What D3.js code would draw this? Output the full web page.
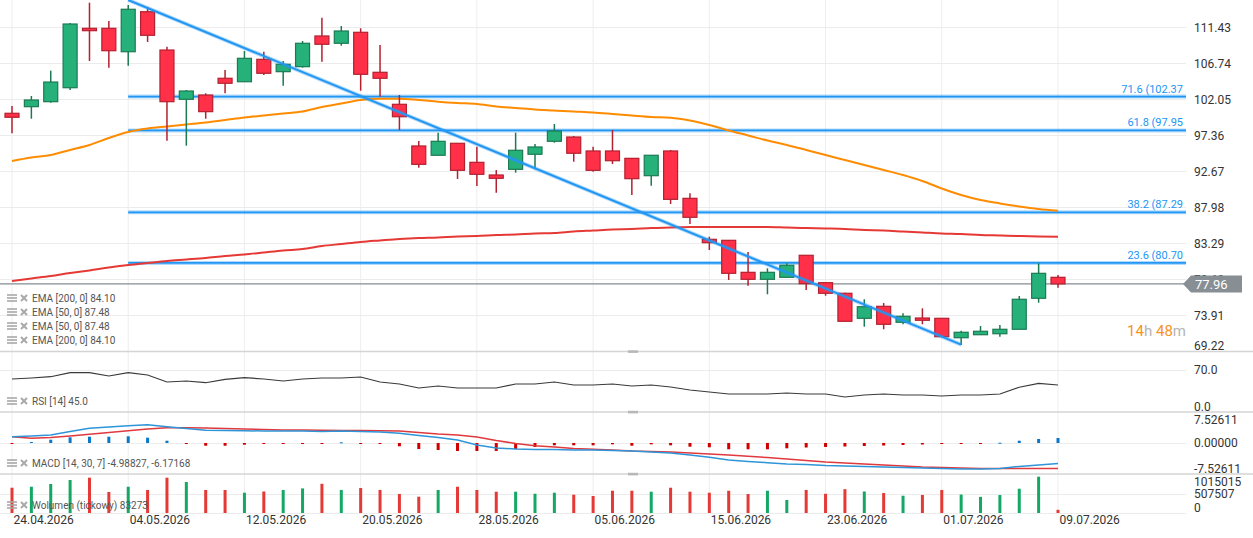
<!DOCTYPE html>
<html>
<head>
<meta charset="utf-8">
<script src="https://cdn.jsdelivr.net/npm/d3@7"></script>
<style>
  body { margin: 0; background: #fff; }
  svg { display: block; font-family: Roboto, sans-serif; }
</style>
</head>
<body>
<svg id="chart" width="1253" height="538"></svg>
<script>
// DATA
const dates = [
  '24.04.2026','27.04.2026','28.04.2026','29.04.2026','30.04.2026','01.05.2026','04.05.2026','05.05.2026','06.05.2026','07.05.2026',
  '08.05.2026','11.05.2026','12.05.2026','13.05.2026','14.05.2026','15.05.2026','18.05.2026','19.05.2026','20.05.2026','21.05.2026',
  '22.05.2026','25.05.2026','26.05.2026','27.05.2026','28.05.2026','29.05.2026','01.06.2026','02.06.2026','03.06.2026','04.06.2026',
  '05.06.2026','08.06.2026','09.06.2026','10.06.2026','11.06.2026','12.06.2026','15.06.2026','16.06.2026','17.06.2026','18.06.2026',
  '19.06.2026','22.06.2026','23.06.2026','24.06.2026','25.06.2026','26.06.2026','29.06.2026','30.06.2026','01.07.2026','02.07.2026',
  '03.07.2026','06.07.2026','07.07.2026','08.07.2026','09.07.2026'
];
const tickDates = ['24.04.2026','04.05.2026','12.05.2026','20.05.2026','28.05.2026','05.06.2026','15.06.2026','23.06.2026','01.07.2026','09.07.2026'];

const open = [100.19,101.05,101.70,103.52,111.26,111.26,108.21,113.42,108.43,102.01,
  102.57,104.75,104.30,107.22,105.61,106.26,110.26,109.31,110.74,105.53,
  101.36,95.93,94.72,96.28,93.80,92.15,92.89,94.85,96.54,97.10,
  95.28,95.28,94.32,92.06,95.28,89.11,83.77,83.64,79.47,78.56,
  78.82,81.69,78.12,76.74,73.48,75.04,72.96,73.52,73.48,70.95,
  71.34,71.47,72.05,76.09,78.82];
const high = [101.14,102.44,105.74,111.95,114.60,112.21,114.30,114.04,108.86,103.22,
  102.79,105.83,108.30,108.21,107.00,109.61,112.64,111.56,111.26,109.09,
  102.57,96.58,97.66,96.28,95.84,92.80,97.66,96.19,98.79,97.23,
  95.84,98.01,94.32,94.72,95.41,89.77,84.11,83.64,82.12,80.00,
  80.65,81.69,78.21,76.82,75.96,75.47,74.13,74.78,73.48,71.87,
  72.48,72.61,76.39,80.65,79.12];
const low = [97.58,99.48,101.57,103.22,107.00,106.13,106.39,109.48,96.62,95.97,
  99.48,102.79,104.30,105.18,103.78,106.13,106.91,108.99,103.13,102.35,
  98.01,93.10,94.72,91.63,90.72,89.84,92.45,92.89,96.36,93.88,
  92.58,93.58,89.54,90.76,88.37,85.77,82.38,78.47,77.73,76.61,
  78.82,77.17,76.42,73.09,72.39,72.05,72.70,72.70,71.08,70.00,
  71.34,71.08,72.05,75.51,77.47];
const close = [99.67,101.92,104.26,111.82,110.95,108.34,113.74,110.35,101.70,103.09,
  100.40,104.10,107.35,105.40,106.57,109.31,109.18,110.91,105.27,104.75,
  99.74,93.54,96.54,92.76,92.24,91.72,95.37,95.80,97.88,94.98,
  92.76,94.01,91.67,94.72,88.98,86.64,83.33,79.34,78.56,79.47,
  80.39,77.99,76.74,73.09,74.99,72.70,73.74,73.22,71.08,71.66,
  71.79,72.05,75.96,79.34,77.96];

const ema50 = [93.97,94.43,94.75,95.41,96.06,96.97,97.75,98.21,98.47,98.73,
  98.99,99.31,99.64,99.90,100.16,100.42,101.01,101.46,101.92,102.09,
  102.09,101.92,101.70,101.53,101.40,101.07,100.88,100.68,100.55,100.42,
  100.29,100.10,99.90,99.71,99.61,99.25,98.66,97.95,97.30,96.64,
  96.06,95.41,94.75,94.10,93.45,92.80,92.15,91.37,90.39,89.54,
  88.89,88.44,88.05,87.72,87.48];
const ema200 = [78.34,78.67,78.99,79.38,79.71,80.10,80.42,80.69,80.95,81.14,
  81.34,81.60,81.79,82.05,82.31,82.51,82.90,83.16,83.42,83.62,
  83.81,83.94,84.01,84.14,84.20,84.33,84.40,84.53,84.59,84.79,
  84.92,85.05,85.11,85.24,85.31,85.38,85.38,85.38,85.38,85.38,
  85.31,85.24,85.18,85.11,84.98,84.92,84.79,84.66,84.53,84.46,
  84.33,84.27,84.20,84.14,84.10];

const rsi = [55.0,56.7,58.8,65.5,65.5,60.0,65.5,61.7,50.0,51.7,
  48.8,54.5,57.2,55.0,51.7,55.0,56.7,56.7,58.3,50.0,
  46.7,40.0,43.3,40.0,40.0,40.0,46.7,46.7,50.0,45.0,
  45.0,46.7,43.3,45.0,41.7,36.7,33.3,30.0,30.0,30.0,
  31.7,30.0,30.0,25.0,28.3,30.0,28.3,28.3,26.7,28.3,
  28.3,30.0,41.2,47.8,45.0];

const macd = [1.53,1.70,1.94,2.79,3.57,3.88,4.20,4.44,3.96,3.52,
  3.08,3.03,2.99,2.91,2.91,2.91,2.79,2.91,2.79,2.67,
  2.35,1.82,1.33,0.73,-0.49,-1.21,-1.46,-1.58,-1.58,-1.70,
  -1.70,-1.82,-1.94,-2.18,-2.43,-2.91,-3.47,-4.13,-4.49,-4.78,
  -5.10,-5.22,-5.46,-5.58,-5.70,-5.83,-5.95,-6.07,-6.19,-6.31,
  -6.31,-6.19,-5.70,-5.34,-4.99];
const signal = [1.53,1.14,1.33,1.70,2.11,2.55,2.99,3.40,3.71,3.71,
  3.64,3.52,3.40,3.28,3.16,3.16,3.08,3.03,3.03,2.99,
  2.91,2.55,2.18,1.94,1.46,0.61,-0.12,-0.66,-0.97,-1.33,
  -1.53,-1.70,-1.94,-2.06,-2.18,-2.43,-2.67,-2.91,-3.23,-3.52,
  -3.88,-4.25,-4.61,-4.85,-5.10,-5.34,-5.58,-5.83,-5.95,-6.07,
  -6.19,-6.22,-6.22,-6.20,-6.17];
const hist = [-0.07,0.24,0.80,1.38,1.53,1.53,1.63,1.29,0.56,-0.24,
  -0.66,-0.66,-0.41,-0.12,-0.12,-0.07,-0.07,0.17,-0.07,-0.24,
  -0.80,-1.46,-1.70,-1.94,-1.94,-1.94,-1.46,-0.97,-0.56,-0.56,
  -0.56,-0.32,-0.66,-0.32,-0.56,-0.90,-1.04,-1.53,-1.53,-1.53,
  -1.29,-1.09,-0.97,-0.85,-0.73,-0.61,-0.49,-0.36,-0.24,-0.17,
  -0.07,0.07,0.56,0.97,1.21];

const volume = [658000,684000,755000,859000,919000,547000,684000,599000,919000,807000,
  599000,599000,528000,560000,600000,640000,760000,600000,650000,600000,
  494000,424000,599000,684000,599000,554000,554000,502000,528000,476000,
  442000,580000,580000,554000,658000,554000,528000,580000,494000,580000,
  338000,600000,500000,620000,560000,520000,450000,470000,600000,480000,
  420000,468000,632000,945000,83273];

const priceTicks = [111.43, 106.74, 102.05, 97.36, 92.67, 87.98, 83.29, 78.60, 73.91, 69.22];
const rsiTicks = [70, 0];
const macdTicks = [7.52611, 0, -7.52611];
const volumeTicks = [1015015, 507507, 0];

const fibLevels = [102.37, 97.95, 87.29, 80.70];
const fibLabels = ['71.6 (102.37', '61.8 (97.95', '38.2 (87.29', '23.6 (80.70'];
const trendDates = ['04.05.2026', '02.07.2026'];
const trendPrices = [114.95, 70.05];
const lastPrice = 77.96;

const emaLegend = ['EMA [200, 0] 84.10', 'EMA [50, 0] 87.48', 'EMA [50, 0] 87.48', 'EMA [200, 0] 84.10'];
const rsiLegend = 'RSI [14] 45.0';
const macdLegend = 'MACD [14, 30, 7] -4.98827, -6.17168';
const volumeLegend = 'Wolumen (tickowy) 83273';

// SETUP
const svg = d3.select('#chart');
const plotRight = 1186;
const panels = {
  main: [0, 351],
  rsi: [352, 412],
  macd: [412, 474],
  vol: [474, 513],
};
const GREEN = '#26b07a', GREEN_EDGE = '#1b7a52';
const RED = '#ff3047', RED_EDGE = '#b3202f';
const BLUE = '#2196f3';

const idx = d3.range(dates.length);
const x = d3.scalePoint().domain(dates).range([12, 1058]);
const yPrice = d3.scaleLinear().domain([69.22, 111.43]).range([351, 27]);
const yRsi = d3.scaleLinear().domain([0, 100]).range([412, 352]);
const yMacd = d3.scaleLinear().domain([-7.52611, 7.52611]).range([474, 412]);
const yVol = d3.scaleLinear().domain([0, 1015015]).range([513, 474]);

// plain hyphen instead of the unicode minus d3 uses
const fmt = (spec) => (d) => d3.format(spec)(d).replace('\u2212', '-');

//GRID
const grid = svg.append('g');
grid.selectAll('.vgrid')
  .data(tickDates)
  .enter()
  .append('line')
  .attr('x1', (d) => x(d)).attr('x2', (d) => x(d))
  .attr('y1', 0).attr('y2', 513)
  .attr('stroke', '#eeeeee');

function hGrid(scale, values) {
  grid.selectAll(null)
    .data(values)
    .enter()
    .append('line')
    .attr('x1', 0).attr('x2', plotRight)
    .attr('y1', (d) => Math.round(scale(d)) + 0.5).attr('y2', (d) => Math.round(scale(d)) + 0.5)
    .attr('stroke', '#ececec');
}
hGrid(yPrice, priceTicks);
hGrid(yRsi, [70]);
hGrid(yMacd, [0]);
hGrid(yVol, [507507, 0]);

// panel separators
[351.5, 412, 474].forEach((y) => {
  svg.append('line').attr('x1', 0).attr('x2', 1253).attr('y1', y).attr('y2', y)
    .attr('stroke', '#d4d4d4').attr('stroke-width', 1.5);
  svg.append('rect').attr('x', 628).attr('y', y - 1.2).attr('width', 10).attr('height', 2.6)
    .attr('fill', '#b8b8b8');
});

//MAIN PANEL
svg.append('clipPath').attr('id', 'clip-main')
  .append('rect').attr('x', 0).attr('y', 0).attr('width', plotRight).attr('height', 351);
const main = svg.append('g').attr('clip-path', 'url(#clip-main)');

// fibonacci levels
const fibStart = x('04.05.2026');
fibLevels.forEach((v, i) => {
  const y = yPrice(v);
  main.append('line').attr('x1', fibStart).attr('x2', plotRight).attr('y1', y).attr('y2', y)
    .attr('stroke', BLUE).attr('stroke-opacity', 0.35).attr('stroke-width', 4);
  main.append('line').attr('x1', fibStart).attr('x2', plotRight).attr('y1', y).attr('y2', y)
    .attr('stroke', BLUE).attr('stroke-width', 1.8);
  main.append('text').attr('x', 1183).attr('y', y - 4)
    .attr('text-anchor', 'end').attr('fill', BLUE)
    .style('font-size', '11px').text(fibLabels[i]);
});

// moving averages
const emaLine = (arr) => d3.line().x((i) => x(dates[i])).y((i) => yPrice(arr[i])).curve(d3.curveMonotoneX);
main.append('path').attr('d', emaLine(ema200)(idx))
  .attr('fill', 'none').attr('stroke', '#e53935').attr('stroke-width', 2);
main.append('path').attr('d', emaLine(ema50)(idx))
  .attr('fill', 'none').attr('stroke', '#ff8c00').attr('stroke-width', 2);

// last price line
main.append('line').attr('x1', 0).attr('x2', plotRight)
  .attr('y1', yPrice(lastPrice)).attr('y2', yPrice(lastPrice))
  .attr('stroke', '#848c92').attr('stroke-width', 1.3);

// candles
const candles = main.selectAll('.candle').data(idx).enter().append('g').classed('candle', true);
candles.append('line')
  .attr('x1', (i) => x(dates[i])).attr('x2', (i) => x(dates[i]))
  .attr('y1', (i) => yPrice(high[i])).attr('y2', (i) => yPrice(low[i]))
  .attr('stroke', (i) => (close[i] >= open[i] ? GREEN_EDGE : RED_EDGE))
  .attr('stroke-width', 1.5);
candles.append('rect')
  .attr('x', (i) => x(dates[i]) - 7)
  .attr('y', (i) => yPrice(Math.max(open[i], close[i])))
  .attr('width', 14)
  .attr('height', (i) => Math.max(1.5, Math.abs(yPrice(open[i]) - yPrice(close[i]))))
  .attr('fill', (i) => (close[i] >= open[i] ? GREEN : RED))
  .attr('stroke', (i) => (close[i] >= open[i] ? GREEN_EDGE : RED_EDGE))
  .attr('stroke-width', 1.2);

// trend line
main.append('line')
  .attr('x1', x(trendDates[0])).attr('y1', yPrice(trendPrices[0]))
  .attr('x2', x(trendDates[1])).attr('y2', yPrice(trendPrices[1]))
  .attr('stroke', BLUE).attr('stroke-opacity', 0.35).attr('stroke-width', 4);
main.append('line')
  .attr('x1', x(trendDates[0])).attr('y1', yPrice(trendPrices[0]))
  .attr('x2', x(trendDates[1])).attr('y2', yPrice(trendPrices[1]))
  .attr('stroke', BLUE).attr('stroke-width', 2);

//RSI
svg.append('path').attr('d', d3.line().x((i) => x(dates[i])).y((i) => yRsi(rsi[i]))(idx))
  .attr('fill', 'none').attr('stroke', '#3a3a3a').attr('stroke-width', 1.2);

//MACD
svg.selectAll('.hist').data(idx).enter().append('rect').classed('hist', true)
  .attr('x', (i) => x(dates[i]) - 1.5)
  .attr('y', (i) => Math.min(yMacd(0), yMacd(hist[i])))
  .attr('width', 3)
  .attr('height', (i) => Math.max(1, Math.abs(yMacd(hist[i]) - yMacd(0))))
  .attr('fill', (i) => (hist[i] >= 0 ? '#0a78c8' : '#d00000'));
svg.append('path').attr('d', d3.line().x((i) => x(dates[i])).y((i) => yMacd(signal[i]))(idx))
  .attr('fill', 'none').attr('stroke', '#e0393e').attr('stroke-width', 1.5);
svg.append('path').attr('d', d3.line().x((i) => x(dates[i])).y((i) => yMacd(macd[i]))(idx))
  .attr('fill', 'none').attr('stroke', '#2e95d8').attr('stroke-width', 1.5);

//VOLUME
svg.selectAll('.vol').data(idx).enter().append('rect').classed('vol', true)
  .attr('x', (i) => x(dates[i]) - 1.5)
  .attr('y', (i) => yVol(volume[i]))
  .attr('width', 3)
  .attr('height', (i) => yVol(0) - yVol(volume[i]))
  .attr('fill', (i) => (close[i] >= open[i] ? '#14a865' : '#e53935'));

//LEGENDS
function legendRow(y, label) {
  const g = svg.append('g').attr('transform', `translate(0,${y})`);
  [-3, 0, 3].forEach((dy) => {
    g.append('rect').attr('x', 7).attr('y', dy - 0.8).attr('width', 10).attr('height', 1.6).attr('fill', '#a9a9a9');
  });
  g.append('path').attr('d', 'M21,-3L27,3M27,-3L21,3').attr('stroke', '#a9a9a9').attr('stroke-width', 2);
  g.append('text').attr('x', 32).attr('y', 0).attr('dy', '0.35em')
    .attr('fill', '#555').style('font-size', '10px').text(label);
}
emaLegend.forEach((t, i) => legendRow(298 + i * 14, t));
legendRow(401, rsiLegend);
legendRow(463, macdLegend);
legendRow(505, volumeLegend);

//AXES
function rightAxis(scale, ticks, format, panel, offset) {
  const g = svg.append('g').attr('transform', 'translate(1190,0)');
  g.call(d3.axisRight(scale).tickValues(ticks).tickFormat(format).tickSize(0).tickPadding(4));
  g.select('.domain').remove();
  g.attr('font-family', 'Roboto, sans-serif').attr('font-size', 12);
  g.selectAll('.tick')
    .attr('transform', (d) => `translate(0,${Math.max(panel[0] + 8, Math.min(panel[1] - 5, scale(d) + offset))})`);
  g.selectAll('text').attr('fill', '#333');
}
rightAxis(yPrice, priceTicks, fmt('.2f'), panels.main, 1);
rightAxis(yRsi, rsiTicks, fmt('.1f'), panels.rsi, 0);
rightAxis(yMacd, macdTicks, fmt('.5f'), panels.macd, 0);
rightAxis(yVol, volumeTicks, fmt('d'), panels.vol, 1);

const xAxis = svg.append('g').attr('transform', 'translate(0,513)');
xAxis.call(d3.axisBottom(x).tickValues(tickDates).tickSize(0).tickPadding(2));
xAxis.select('.domain').remove();
xAxis.attr('font-family', 'Roboto, sans-serif').attr('font-size', 12);
xAxis.selectAll('text').attr('text-anchor', 'start').attr('x', 1).attr('fill', '#333');

// price tag
const py = yPrice(lastPrice);
svg.append('path')
  .attr('d', `M1183,${py}L1191,${py - 8.5}L1242,${py - 8.5}L1242,${py + 8.5}L1191,${py + 8.5}Z`)
  .attr('fill', '#878f95');
svg.append('text').attr('x', 1195).attr('y', py).attr('dy', '0.36em')
  .attr('fill', '#fff').style('font-size', '13px').text(d3.format('.2f')(lastPrice));

// countdown
const timer = svg.append('text').attr('x', plotRight).attr('y', 331).attr('dy', '0.35em')
  .attr('text-anchor', 'end').style('font-size', '15px');
timer.append('tspan').attr('fill', '#f7931e').text('14');
timer.append('tspan').attr('fill', '#b5b5b5').text('h ');
timer.append('tspan').attr('fill', '#f7931e').text('48');
timer.append('tspan').attr('fill', '#b5b5b5').text('m');
</script>
</body>
</html>
